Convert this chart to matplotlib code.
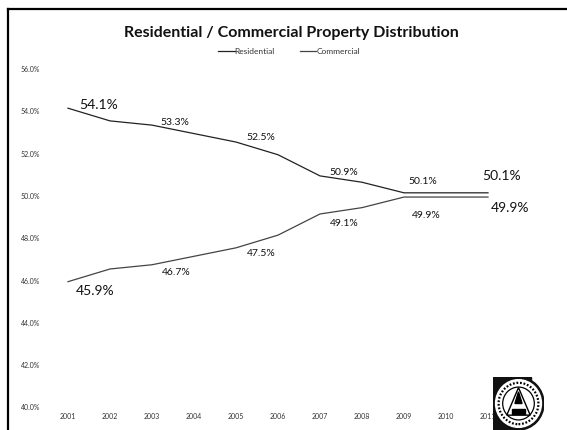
import numpy as np
import matplotlib
matplotlib.use("Agg")
import matplotlib.pyplot as plt
from matplotlib.lines import Line2D
from matplotlib.patches import Circle, Polygon, Rectangle

years = [2001, 2002, 2003, 2004, 2005, 2006, 2007, 2008, 2009, 2010, 2011]
residential = [54.1, 53.5, 53.3, 52.9, 52.5, 51.9, 50.9, 50.6, 50.1, 50.1, 50.1]
commercial = [45.9, 46.5, 46.7, 47.1, 47.5, 48.1, 49.1, 49.4, 49.9, 49.9, 49.9]
y_ticks = [40, 42, 44, 46, 48, 50, 52, 54, 56]

# labels sit on every second year, first and last ones are bigger
label_idx = [0, 2, 4, 6, 8, 10]
res_offset = [(31, 4), (23, 4), (25, 6), (24, 4), (19, 12), (14, 18)]
com_offset = [(27, -8), (24, -7), (25, -5), (24, -9), (22, -17), (22, -10)]
label_size = [10, 7.5, 7.5, 7.5, 7.5, 10]

W, H = 567, 431
fig = plt.figure(figsize=(W / 100, H / 100), dpi=100)
plt.rcParams["font.family"] = ["Lato", "DejaVu Sans"]

ax = fig.add_axes([47 / W, 1 - 407.5 / H, 462 / W, 338.5 / H])
ax.set_xlim(2000.5, 2011.5)
ax.set_ylim(40, 56)
for s in ax.spines.values():
    s.set_visible(False)
ax.set_xticks(years)
ax.set_yticks(y_ticks)
ax.set_yticklabels(["%.1f%%" % v for v in y_ticks])
ax.tick_params(length=0, labelsize=5, labelcolor="#333333")
ax.tick_params(axis="x", pad=4)
ax.tick_params(axis="y", pad=5)

ax.plot(years, residential, color="#222222", linewidth=0.9, label="Residential")
ax.plot(years, commercial, color="#444444", linewidth=0.9, label="Commercial")

for i, k in enumerate(label_idx):
    ax.annotate("%.1f%%" % residential[k], (years[k], residential[k]), xytext=res_offset[i],
                textcoords="offset pixels", ha="center", va="center",
                fontsize=label_size[i], color="#111111")
    ax.annotate("%.1f%%" % commercial[k], (years[k], commercial[k]), xytext=com_offset[i],
                textcoords="offset pixels", ha="center", va="center",
                fontsize=label_size[i], color="#111111")

fig.text(291 / W, 1 - 33 / H, "Residential / Commercial Property Distribution",
         ha="center", va="center", fontsize=11.5, fontweight="bold", color="#111111")
ax.legend(loc="center", bbox_to_anchor=(289 / W, 1 - 52 / H), bbox_transform=fig.transFigure,
          ncol=2, frameon=False, fontsize=6, handlelength=2, handletextpad=0,
          columnspacing=3, labelcolor="#333333")

# scan edge along the left and top
fig.add_artist(Line2D([8 / W, 8 / W], [0, 1 - 10 / H], color="black", linewidth=1.6))
fig.add_artist(Line2D([8 / W, 1], [1 - 10 / H, 1 - 10 / H], color="black", linewidth=1.6))

# round seal in the corner
seal = fig.add_axes([493 / W, 0, 51 / W, 53 / H])
seal.set_xlim(0, 1)
seal.set_ylim(0, 1)
seal.axis("off")
seal.add_patch(Rectangle((0, 0), 0.5, 1, color="#111111"))
seal.add_patch(Rectangle((0, 0.5), 0.75, 0.5, color="#111111"))
seal.add_patch(Circle((0.5, 0.5), 0.5, color="#111111"))
seal.add_patch(Circle((0.5, 0.5), 0.45, color="white"))
seal.add_patch(Circle((0.5, 0.5), 0.39, fill=False, color="black", linewidth=1.6, linestyle=(0, (0.8, 0.8))))
seal.add_patch(Circle((0.5, 0.5), 0.31, fill=False, color="black", linewidth=0.9))
seal.add_patch(Polygon([[0.5, 0.8], [0.27, 0.28], [0.73, 0.28]], fill=False, color="black", linewidth=1))
seal.add_patch(Polygon([[0.5, 0.72], [0.43, 0.5], [0.57, 0.5]], color="black"))
seal.add_patch(Rectangle((0.38, 0.3), 0.24, 0.1, color="black"))

fig.savefig("out.png", dpi=100)
